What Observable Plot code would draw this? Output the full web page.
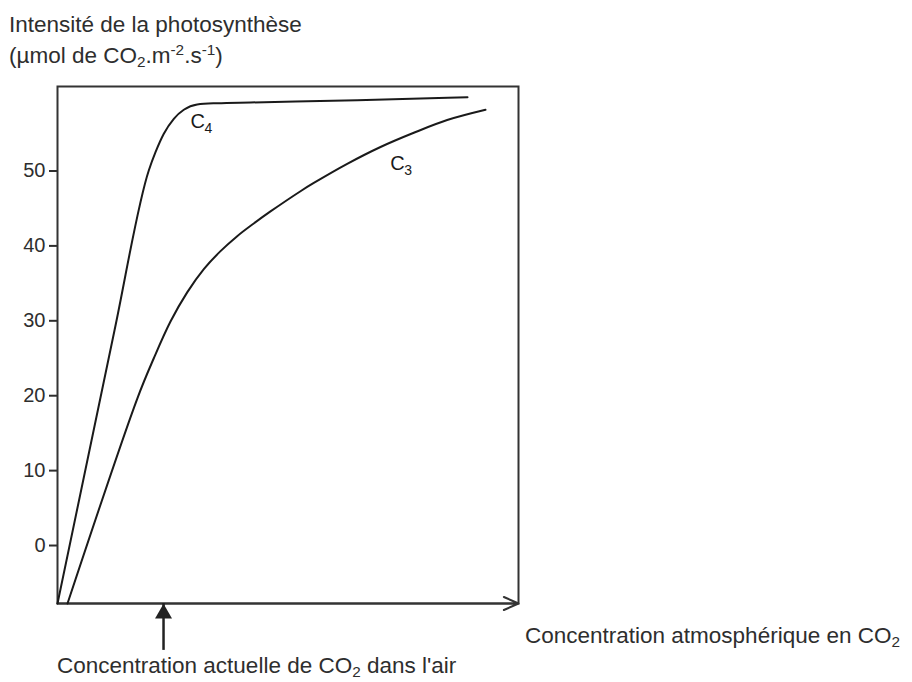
<!DOCTYPE html>
<html>
<head>
<meta charset="utf-8">
<script src="https://cdn.jsdelivr.net/npm/d3@7"></script>
<script src="https://cdn.jsdelivr.net/npm/@observablehq/plot@0.6"></script>
<style>
  html, body { margin: 0; padding: 0; background: #fff; }
  #wrap { position: relative; width: 912px; height: 682px; font-family: "Liberation Sans", Arial, sans-serif; color: #2e2e2e; }
  #title { position: absolute; left: 9px; top: 9px; font-size: 22.5px; line-height: 31px; white-space: nowrap; }
  #chart { position: absolute; left: 0; top: 76px; }
  .lab { position: absolute; font-size: 22.5px; line-height: 22px; white-space: nowrap; }
  sub, sup { font-size: 0.68em; line-height: 0; }
  sub { vertical-align: -0.25em; }
  sup { vertical-align: 0.55em; }
  #chart svg g[aria-label="y-axis tick"] path { stroke-width: 2; }
  #chart svg g[aria-label="y-axis"] line { stroke-width: 2; }
</style>
</head>
<body>
<div id="wrap">
  <div id="title">Intensité de la photosynthèse<br>(µmol de CO<sub>2</sub>.m<sup>-2</sup>.s<sup>-1</sup>)</div>
  <div id="chart"></div>
  <div class="lab" style="left:525px; top:625px;">Concentration atmosphérique en CO<sub>2</sub></div>
  <div class="lab" style="left:57px; top:655px;">Concentration actuelle de CO<sub>2</sub> dans l'air</div>
</div>
<script>
// Y axis ticks
const yTicks = [0, 10, 20, 30, 40, 50];
const yMin = -7.74;
const yMax = 61.28;

// C4 curve (x: relative CO2 concentration 0-100, y: photosynthesis intensity)
const c4X = [0, 12.36, 19.80, 21.26, 23.06, 25.23, 27.40, 30.30, 34.64, 41.87, 65.0, 88.94];
const c4Y = [-7.74, 28.70, 50.07, 52.51, 54.97, 56.97, 58.17, 58.88, 59.05, 59.15, 59.45, 59.85];

// C3 curve
const c3X = [2.17, 17.29, 20.89, 24.51, 28.13, 31.74, 35.36, 38.98, 42.58, 46.20, 52.71, 55.60, 62.84, 70.07, 77.29, 84.53, 92.84];
const c3Y = [-7.74, 19.59, 25.0, 29.9, 33.8, 36.9, 39.3, 41.3, 43.0, 44.6, 47.3, 48.4, 50.95, 53.2, 55.1, 56.8, 58.17];

// Curve labels
const labelNames = ["C", "C"];
const labelSubs = ["4", "3"];
const labelX = [28.85, 72.2];
const labelY = [55.7, 50.07];

// Current atmospheric CO2 marker
const currentCO2 = [23];
const arrowTailY = -14.0;

const c4 = c4X.map((x, i) => ({x, y: c4Y[i]}));
const c3 = c3X.map((x, i) => ({x, y: c3Y[i]}));
const labels = labelNames.map((n, i) => ({name: n, sub: labelSubs[i], x: labelX[i], y: labelY[i]}));
const axisArrow = [{x1: 0, x2: 100, y: yMin}];

const chart = Plot.plot({
  width: 912,
  height: 606,
  marginTop: 10,
  marginBottom: 79,
  marginLeft: 57,
  marginRight: 394,
  style: {fontFamily: "'Liberation Sans', Arial, sans-serif", fontSize: "20px", color: "#2e2e2e", background: "white", overflow: "visible"},
  x: {domain: [0, 100], axis: null},
  y: {domain: [yMin, yMax], ticks: yTicks, tickSize: 8, tickPadding: 4, label: null, tickFormat: d => String(d)},
  marks: [
    Plot.frame({stroke: "#333", strokeWidth: 2}),
    Plot.arrow(axisArrow, {x1: "x1", x2: "x2", y1: "y", y2: "y", stroke: "#333", strokeWidth: 2, headLength: 12, headAngle: 48}),
    Plot.line(c4, {x: "x", y: "y", curve: "monotone-x", stroke: "#1a1a1a", strokeWidth: 2}),
    Plot.line(c3, {x: "x", y: "y", curve: "catmull-rom", stroke: "#1a1a1a", strokeWidth: 2}),
    Plot.text(labels, {x: "x", y: "y", text: "name", textAnchor: "start", lineAnchor: "bottom", fontSize: 20, fill: "#1a1a1a"}),
    Plot.text(labels, {x: "x", y: "y", text: "sub", textAnchor: "start", lineAnchor: "bottom", fontSize: 14, dx: 14, dy: 5, fill: "#1a1a1a"}),
    Plot.ruleX(currentCO2, {x: d => d, y1: arrowTailY, y2: yMin, stroke: "#222", strokeWidth: 2.5}),
    Plot.dot(currentCO2, {x: d => d, y: yMin, symbol: "triangle", r: 6.3, fill: "#222", stroke: "none", dy: 10})
  ]
});
document.getElementById("chart").appendChild(chart);
</script>
</body>
</html>
